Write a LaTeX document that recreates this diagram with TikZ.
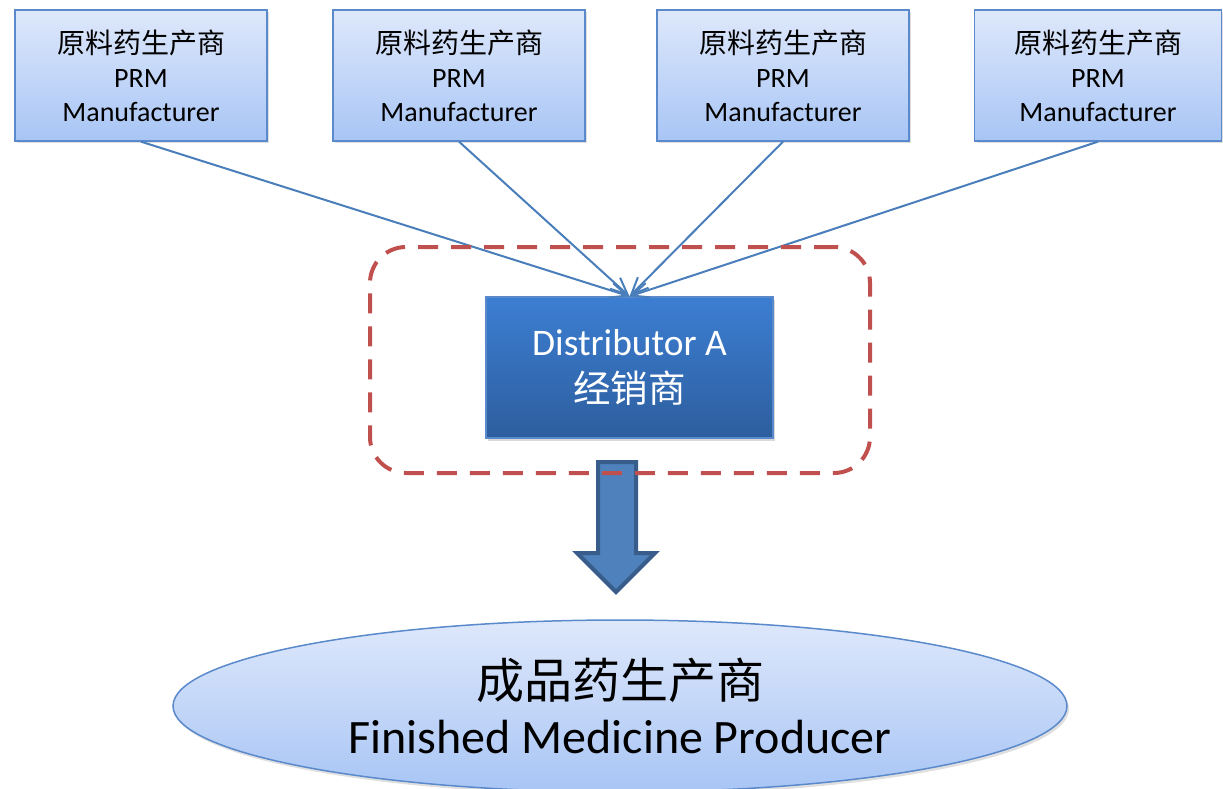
\documentclass[tikz,border=0pt]{standalone}
\usepackage{fontspec}
\setmainfont{Carlito}
\newfontfamily\cjk{Noto Sans CJK SC}
\usetikzlibrary{arrows.meta,shadows,shapes.geometric}
\definecolor{boxtop}{HTML}{DEE8FB}
\definecolor{boxbot}{HTML}{A8C5F5}
\definecolor{boxline}{HTML}{5A8ACB}
\definecolor{disttop}{HTML}{3C7ED2}
\definecolor{distbot}{HTML}{2D5E9E}
\definecolor{connblue}{HTML}{4A7EBB}
\definecolor{framered}{HTML}{C0504D}
\definecolor{arrowfill}{HTML}{4F81BD}
\definecolor{arrowline}{HTML}{385D8A}
\begin{document}
\begin{tikzpicture}[x=1pt,y=-1pt,
  prmbox/.style={rectangle, draw=boxline, line width=1.3pt,
    top color=boxtop, bottom color=boxbot,
    minimum width=252pt, minimum height=131pt, inner sep=0pt,
    align=center, font=\fontsize{28}{34}\selectfont,
    drop shadow={opacity=0.25, shadow xshift=2pt, shadow yshift=-2pt}},
  distbox/.style={rectangle, draw=boxline, line width=1.3pt,
    top color=disttop, bottom color=distbot, text=white,
    minimum width=287pt, minimum height=141pt, inner sep=0pt,
    align=center, font=\fontsize{37.5}{47}\selectfont,
    drop shadow={opacity=0.3, shadow xshift=2pt, shadow yshift=-3pt}},
  framebox/.style={rectangle, rounded corners=36pt, draw=framered,
    line width=4pt, dash pattern=on 20pt off 13pt,
    minimum width=500pt, minimum height=226pt, inner sep=0pt},
  prodell/.style={ellipse, draw=boxline, line width=1.5pt,
    top color=boxtop, bottom color=boxbot,
    minimum width=894pt, minimum height=172pt, inner sep=0pt,
    align=center, font=\fontsize{48}{57}\selectfont,
    drop shadow={opacity=0.25, shadow xshift=2pt, shadow yshift=-3pt}},
  conn/.style={draw=connblue, line width=2pt,
    -{Straight Barb[length=17pt, width=15pt, line width=2pt]}},
  blockarrow/.style={fill=arrowfill, draw=arrowline, line width=4pt, line join=miter}
]
\useasboundingbox (0,0) rectangle (1223,789);

% supplier boxes
\node[prmbox] (b1) at (141,75.5)  {{\cjk 原料药生产商}\\PRM\\Manufacturer};
\node[prmbox] (b2) at (459,75.5)  {{\cjk 原料药生产商}\\PRM\\Manufacturer};
\node[prmbox] (b3) at (783,75.5)  {{\cjk 原料药生产商}\\PRM\\Manufacturer};
\node[prmbox, minimum width=247pt] (b4) at (1098,75.5) {{\cjk 原料药生产商}\\PRM\\Manufacturer};

% distributor
\node[distbox] (dist) at (629.5,367.5) {Distributor A\\{\cjk 经销商}};

% producer
\node[prodell] (prod) at (620,706) {{\cjk 成品药生产商}\\[-2pt]Finished Medicine Producer};

% supply lines
\foreach \b in {b1,b2,b3,b4}
  \draw[conn] (\b.south) -- (dist.north);

% block arrow towards the producer
\draw[blockarrow] (598,462) -- (636,462) -- (636,553) -- (655,553)
  -- (616,592) -- (577,553) -- (598,553) -- cycle;

% dashed frame around the distributor
\node[framebox] (frame) at (620,360) {};
\end{tikzpicture}
\end{document}
